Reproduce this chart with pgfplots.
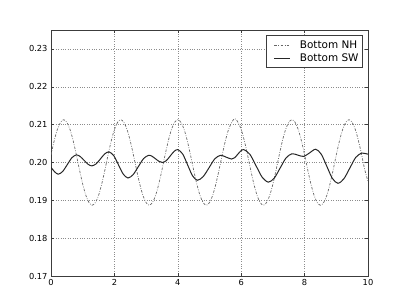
\documentclass[border=0pt]{standalone}
\usepackage{pgfplots}
\pgfplotsset{compat=1.18}
\usepackage{fontspec}
\setmainfont{DejaVu Sans}
\definecolor{axgray}{RGB}{60,60,60}
\begin{document}
\begin{tikzpicture}
\begin{axis}[
  scale only axis,
  width=317bp, height=246bp,
  at={(0,0)}, anchor=south west,
  xmin=0, xmax=10, ymin=0.17, ymax=0.235,
  xtick={0,2,4,6,8,10},
  ytick={0.17,0.18,0.19,0.20,0.21,0.22,0.23},
  yticklabel style={/pgf/number format/.cd,fixed,fixed zerofill,precision=2},
  /pgf/number format/assume math mode=true,
  tick label style={font=\fontsize{8.3}{9}\selectfont, text=black},
  tick align=inside,
  major tick length=3bp,
  tick style={axgray, line width=0.5pt},
  axis line style={axgray, line width=1pt},
  grid=major,
  grid style={dotted, black!45, line width=0.5pt},
  legend style={at={(1,1)}, anchor=north east, xshift=-5bp, yshift=-5bp,
    draw=axgray, line width=1pt, font=\fontsize{10.5}{12}\selectfont,
    inner xsep=2bp, inner ysep=3bp, row sep=0bp},
  legend image code/.code={\draw[#1] (0bp,0bp) -- (16bp,0bp); \path (-5bp,0bp) (23bp,0bp);},
  legend cell align=left,
]
\addplot[black!60, line width=0.7pt, smooth, dash pattern=on 2.5pt off 1.5pt on 0.7pt off 1.5pt] coordinates {
(0.0,0.2020)(0.1,0.2057)(0.2,0.2087)(0.3,0.2106)(0.4,0.2113)(0.5,0.2106)(0.6,0.2087)(0.7,0.2057)(0.8,0.2020)(0.9,0.1980)
(1.0,0.1943)(1.1,0.1913)(1.2,0.1894)(1.3,0.1887)(1.4,0.1894)(1.5,0.1913)(1.6,0.1943)(1.7,0.1980)(1.8,0.2020)(1.9,0.2057)
(2.0,0.2087)(2.1,0.2106)(2.2,0.2113)(2.3,0.2106)(2.4,0.2087)(2.5,0.2057)(2.6,0.2020)(2.7,0.1980)(2.8,0.1943)(2.9,0.1913)
(3.0,0.1894)(3.1,0.1887)(3.2,0.1894)(3.3,0.1913)(3.4,0.1943)(3.5,0.1980)(3.6,0.2020)(3.7,0.2057)(3.8,0.2087)(3.9,0.2106)
(4.0,0.2113)(4.1,0.2106)(4.2,0.2087)(4.3,0.2057)(4.4,0.2020)(4.5,0.1980)(4.6,0.1943)(4.7,0.1913)(4.8,0.1894)(4.9,0.1887)
(5.0,0.1894)(5.1,0.1913)(5.2,0.1943)(5.3,0.1980)(5.4,0.2020)(5.5,0.2057)(5.6,0.2087)(5.7,0.2106)(5.8,0.2116)(5.9,0.2106)
(6.0,0.2087)(6.1,0.2057)(6.2,0.2020)(6.3,0.1980)(6.4,0.1943)(6.5,0.1913)(6.6,0.1894)(6.7,0.1887)(6.8,0.1894)(6.9,0.1913)
(7.0,0.1943)(7.1,0.1980)(7.2,0.2020)(7.3,0.2057)(7.4,0.2087)(7.5,0.2106)(7.6,0.2113)(7.7,0.2106)(7.8,0.2087)(7.9,0.2057)
(8.0,0.2020)(8.1,0.1980)(8.2,0.1943)(8.3,0.1913)(8.4,0.1894)(8.5,0.1887)(8.6,0.1894)(8.7,0.1913)(8.8,0.1943)(8.9,0.1980)
(9.0,0.2020)(9.1,0.2057)(9.2,0.2087)(9.3,0.2106)(9.4,0.2113)(9.5,0.2106)(9.6,0.2087)(9.7,0.2057)(9.8,0.2020)(9.9,0.1980)
(10.0,0.1950)
};
\addlegendentry{Bottom NH}
\addplot[black!85, line width=1pt, smooth] coordinates {
(0,0.1987)(0.12,0.1975)(0.23,0.1969)(0.37,0.19764)(0.515,0.19945)(0.66,0.20126)(0.80,0.2020)
(0.92,0.20158)(1.045,0.20055)(1.17,0.19952)(1.29,0.1991)
(1.425,0.19964)(1.56,0.20095)(1.695,0.20226)(1.83,0.2028)
(1.98,0.20179)(2.13,0.19935)(2.28,0.19691)(2.43,0.1959)
(2.59,0.19678)(2.755,0.1989)(2.92,0.20102)(3.08,0.2019)
(3.19,0.20162)(3.30,0.20095)(3.41,0.20028)(3.52,0.2000)
(3.64,0.2005)(3.76,0.2017)(3.88,0.2029)(4.00,0.2034)
(4.155,0.20222)(4.31,0.19935)(4.465,0.19648)(4.62,0.1953)
(4.80,0.19626)(4.985,0.1986)(5.165,0.20094)(5.35,0.2019)
(5.525,0.2014)(5.70,0.2009)
(5.795,0.20127)(5.89,0.20215)(5.985,0.20303)(6.08,0.2034)
(6.275,0.20214)(6.47,0.1991)(6.665,0.19606)(6.86,0.1948)
(7.045,0.1959)(7.23,0.19855)(7.415,0.2012)(7.60,0.2023)
(7.785,0.20195)(7.97,0.2016)
(8.16,0.20255)(8.35,0.2035)
(8.525,0.20219)(8.70,0.1990)(8.875,0.19581)(9.05,0.1945)
(9.2375,0.19567)(9.425,0.1985)(9.6125,0.20133)(9.80,0.2025)
(9.9,0.20238)(10,0.2022)
};
\addlegendentry{Bottom SW}
\end{axis}
\path[use as bounding box] (-51bp,-31bp) rectangle (358bp,276bp);
\end{tikzpicture}
\end{document}
